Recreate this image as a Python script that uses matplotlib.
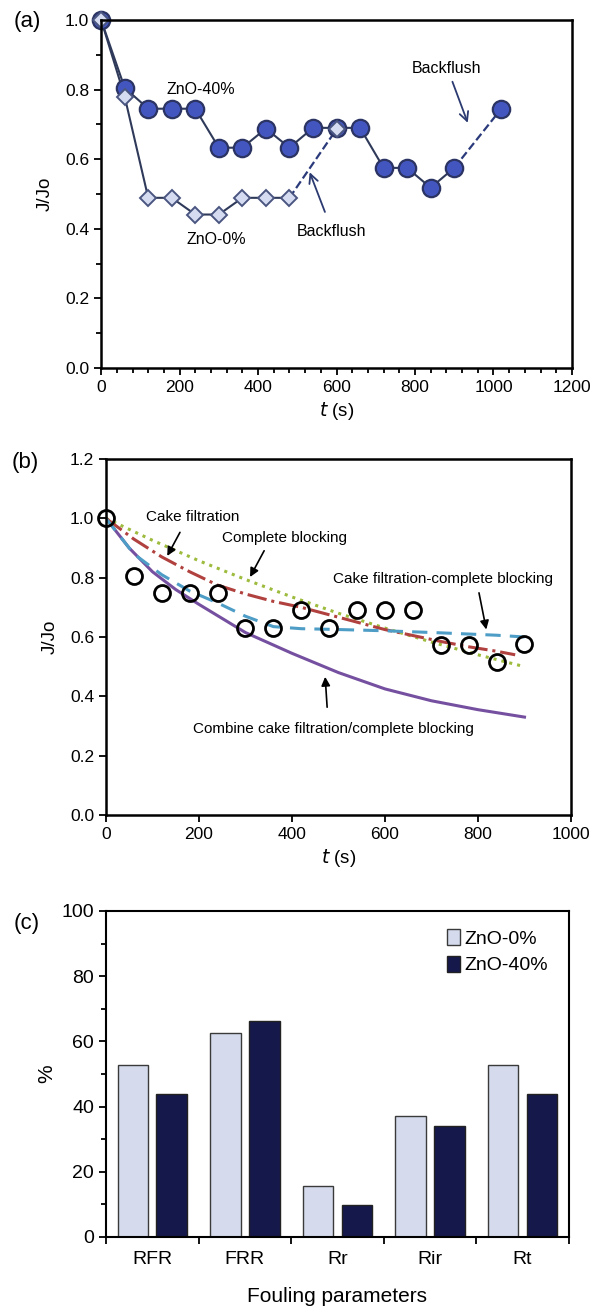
import numpy as np
import matplotlib
matplotlib.use("Agg")
import matplotlib.pyplot as plt
from matplotlib.ticker import MultipleLocator

plt.rcParams['font.family'] = ['Liberation Sans', 'DejaVu Sans']

# (a) flux decline with backflush
t_40 = [0, 60, 120, 180, 240, 300, 360, 420, 480, 540, 600, 660, 720, 780, 840, 900]
j_40 = [1.0, 0.805, 0.745, 0.745, 0.745, 0.633, 0.633, 0.688, 0.633, 0.69, 0.69, 0.69, 0.575, 0.575, 0.518, 0.575]
t_40_bf = [900, 1020]
j_40_bf = [0.575, 0.745]
t_0 = [0, 60, 120, 180, 240, 300, 360, 420, 480]
j_0 = [1.0, 0.78, 0.489, 0.489, 0.441, 0.441, 0.489, 0.489, 0.489]
t_0_bf = [480, 600]
j_0_bf = [0.489, 0.686]

# (b) model fits
t_exp = [0, 60, 120, 180, 240, 300, 360, 420, 480, 540, 600, 660, 720, 780, 840, 900]
j_exp = [1.0, 0.806, 0.747, 0.747, 0.747, 0.631, 0.631, 0.691, 0.629, 0.691, 0.691, 0.691, 0.573, 0.573, 0.517, 0.575]
t_comb = [0, 50, 100, 150, 200, 300, 400, 500, 600, 700, 800, 900]
j_comb = [1.0, 0.90, 0.82, 0.76, 0.71, 0.615, 0.545, 0.48, 0.425, 0.385, 0.355, 0.33]
t_cb = [0, 100, 200, 300, 400, 500, 600, 700, 800, 900]
j_cb = [1.0, 0.926, 0.857, 0.794, 0.735, 0.68, 0.63, 0.583, 0.54, 0.50]
t_cf = [0, 60, 120, 180, 240, 300, 360, 420, 480, 540, 600, 660, 720, 780, 840, 880]
j_cf = [1.0, 0.93, 0.87, 0.82, 0.775, 0.745, 0.72, 0.70, 0.675, 0.65, 0.625, 0.605, 0.585, 0.567, 0.552, 0.54]
t_cfcb = [0, 60, 120, 180, 240, 300, 360, 420, 480, 600, 720, 840, 900]
j_cfcb = [1.0, 0.88, 0.81, 0.755, 0.715, 0.67, 0.635, 0.628, 0.626, 0.621, 0.614, 0.606, 0.60]

# (c) fouling parameters
params = ["RFR", "FRR", "Rr", "Rir", "Rt"]
zno_0 = [52.9, 62.7, 15.5, 37.1, 52.9]
zno_40 = [43.9, 66.2, 9.9, 33.9, 43.9]

fig = plt.figure(figsize=(6.02, 13.13), dpi=100)
H = 1313.0

def style_axes(ax, lw=1.6):
    for s in ax.spines.values():
        s.set_linewidth(lw)
    ax.tick_params(which="both", direction="out", top=False, right=False, width=1.3)
    ax.tick_params(which="major", length=5)
    ax.tick_params(which="minor", length=3.5)

# ---- (a) ----
ax1 = fig.add_axes([0.168, 0.7197, 0.782, 0.2651])
line_c = "#2F3A5A"
ax1.plot(t_40, j_40, "-", color=line_c, lw=1.5, zorder=2)
ax1.plot(t_40_bf, j_40_bf, "--", color="#2B3A7A", lw=1.6, zorder=2)
ax1.plot(t_0, j_0, "-", color=line_c, lw=1.5, zorder=2)
ax1.plot(t_0_bf, j_0_bf, "--", color="#2B3A7A", lw=1.6, zorder=2)
ax1.plot(t_40 + [1020], j_40 + [0.745], "o", ms=12.5, mfc="#4356C0", mec="#2B3462", mew=1.6, ls="none", zorder=3)
ax1.plot(t_0 + [600], j_0 + [0.686], "D", ms=8, mfc="#D5DCF1", mec="#4A5680", mew=1.4, ls="none", zorder=4)
ax1.set_xlim(0, 1200)
ax1.set_ylim(0, 1.0)
ax1.xaxis.set_major_locator(MultipleLocator(200))
ax1.xaxis.set_minor_locator(MultipleLocator(40))
ax1.yaxis.set_major_locator(MultipleLocator(0.2))
ax1.yaxis.set_minor_locator(MultipleLocator(0.1))
ax1.yaxis.set_major_formatter(plt.FormatStrFormatter("%.1f"))
style_axes(ax1, 1.8)
ax1.tick_params(labelsize=12.5)
ax1.set_ylabel("J/Jo", fontsize=13.5, labelpad=8)
ax1.set_xlabel("$\\it{t}$ (s)", fontsize=13.5, labelpad=4)
for sp in ax1.spines.values():
    sp.set_zorder(5)
for ln in ax1.lines:
    ln.set_clip_on(False)
ax1.text(255, 0.80, "ZnO-40%", fontsize=11.5, ha="center", va="center")
ax1.text(293, 0.369, "ZnO-0%", fontsize=11.5, ha="center", va="center")
ax1.text(588, 0.393, "Backflush", fontsize=11.5, ha="center", va="center")
ax1.text(880, 0.86, "Backflush", fontsize=11.5, ha="center", va="center")
arr_a = dict(arrowstyle="->", color="#2B3A70", lw=1.3, mutation_scale=16)
ax1.annotate("", xy=(529, 0.57), xytext=(573, 0.441), arrowprops=arr_a)
ax1.annotate("", xy=(937, 0.697), xytext=(893, 0.83), arrowprops=arr_a)

# ---- (b) ----
ax2 = fig.add_axes([0.176, 0.3793, 0.7725, 0.2711])
ax2.plot(t_comb, j_comb, "-", color="#7650A0", lw=2.2, zorder=2)
ax2.plot(t_cb, j_cb, ":", color="#9DBB3C", lw=2.2, zorder=2)
ax2.plot(t_cf, j_cf, "-.", color="#B0413E", lw=2.2, zorder=2)
ax2.plot(t_cfcb, j_cfcb, "--", color="#4E9DC6", lw=2.2, dashes=(5, 3), zorder=2)
ax2.plot(t_exp, j_exp, "o", ms=11.5, mfc="none", mec="black", mew=2.0, ls="none", zorder=3, clip_on=False)
ax2.set_xlim(0, 1000)
ax2.set_ylim(0, 1.2)
ax2.xaxis.set_major_locator(MultipleLocator(200))
ax2.yaxis.set_major_locator(MultipleLocator(0.2))
ax2.yaxis.set_major_formatter(plt.FormatStrFormatter("%.1f"))
style_axes(ax2, 1.8)
ax2.tick_params(labelsize=12.5)
ax2.set_ylabel("J/Jo", fontsize=13.5, labelpad=8)
ax2.set_xlabel("$\\it{t}$ (s)", fontsize=13.5, labelpad=4)
arr_b = dict(arrowstyle="-|>", color="black", lw=1.2, mutation_scale=13)
ax2.text(187, 1.006, "Cake filtration", fontsize=11, ha="center", va="center")
ax2.annotate("", xy=(129, 0.865), xytext=(162, 0.961), arrowprops=arr_b)
ax2.text(385, 0.933, "Complete blocking", fontsize=11, ha="center", va="center")
ax2.annotate("", xy=(307, 0.794), xytext=(343, 0.899), arrowprops=arr_b)
ax2.text(725, 0.794, "Cake filtration-complete blocking", fontsize=11, ha="center", va="center")
ax2.annotate("", xy=(819, 0.616), xytext=(801, 0.758), arrowprops=arr_b)
ax2.text(490, 0.289, "Combine cake filtration/complete blocking", fontsize=11, ha="center", va="center")
ax2.annotate("", xy=(471, 0.475), xytext=(476, 0.354), arrowprops=arr_b)

# ---- (c) ----
ax3 = fig.add_axes([0.176, 0.0579, 0.769, 0.2483])
x = np.arange(len(params))
ax3.bar(x - 0.21, zno_0, width=0.33, color="#D5DBEC", edgecolor="#3A3A3A", lw=1.0, label="ZnO-0%")
ax3.bar(x + 0.21, zno_40, width=0.33, color="#15184A", edgecolor="#222222", lw=1.0, label="ZnO-40%")
ax3.set_xlim(-0.5, len(params) - 0.5)
ax3.set_ylim(0, 100)
ax3.set_xticks(x)
ax3.set_xticklabels(params)
ax3.set_xticks(np.arange(-0.5, len(params)), minor=True)
ax3.yaxis.set_major_locator(MultipleLocator(20))
ax3.yaxis.set_minor_locator(MultipleLocator(10))
style_axes(ax3, 1.5)
ax3.tick_params(axis="x", which="major", length=0, pad=10, labelsize=14)
ax3.tick_params(axis="x", which="minor", length=5)
ax3.tick_params(axis="y", labelsize=14)
ax3.set_ylabel("%", fontsize=15, labelpad=4)
ax3.set_xlabel("Fouling parameters", fontsize=15, labelpad=14)
ax3.legend(loc="upper right", bbox_to_anchor=(0.98, 0.98), frameon=False, fontsize=14,
           handlelength=0.7, handleheight=0.9, handletextpad=0.2, labelspacing=0.4,
           borderaxespad=0.2)

# panel letters in figure pixels
fig.text(14 / 602, 1 - 22 / H, "(a)", fontsize=16, ha="left", va="center")
fig.text(12 / 602, 1 - 462 / H, "(b)", fontsize=16, ha="left", va="center")
fig.text(14 / 602, 1 - 923 / H, "(c)", fontsize=16, ha="left", va="center")

fig.savefig("out.png", dpi=100)
